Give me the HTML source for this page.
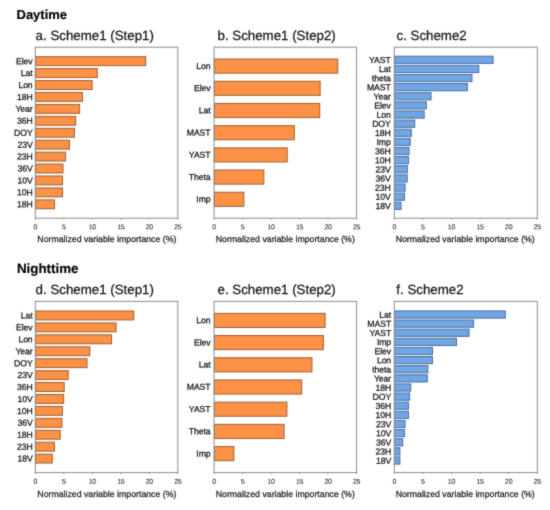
<!DOCTYPE html>
<html lang="en">
<head>
<meta charset="utf-8">
<title>Normalized variable importance</title>
<style>
html,body{margin:0;padding:0;background:#fff;}
body{width:550px;height:510px;overflow:hidden;}
svg{display:block;font-family:"Liberation Sans",Arial,Helvetica,sans-serif;text-rendering:geometricPrecision;}
.head{font-size:13.2px;font-weight:bold;fill:#000;stroke:#000;stroke-width:0.15px;}
.title{font-size:13.3px;fill:#161616;stroke:#161616;stroke-width:0.25px;}
.lab{font-size:8.7px;fill:#141414;text-anchor:end;stroke:#141414;stroke-width:0.25px;letter-spacing:-0.1px;}
.tick{font-size:7.0px;fill:#333;text-anchor:middle;stroke:#333;stroke-width:0.1px;letter-spacing:-0.25px;}
.ax{font-size:8.75px;fill:#1e1e1e;text-anchor:middle;stroke:#1e1e1e;stroke-width:0.25px;}
.frame{fill:none;stroke:#8c8c8c;stroke-width:1;}
.tk{stroke:#8c8c8c;stroke-width:0.9;}
.o{fill:#FD9145;stroke:#9C6238;stroke-width:1.00;}
.b{fill:#70A6E6;stroke:#4d6f98;stroke-width:1.00;}
</style>
</head>
<body>
<svg width="550" height="510" viewBox="0 0 550 510">
<defs><filter id="soft" x="0" y="0" width="550" height="510" filterUnits="userSpaceOnUse" color-interpolation-filters="sRGB"><feConvolveMatrix order="3" kernelMatrix="0.025 0.085 0.025 0.085 0.56 0.085 0.025 0.085 0.025" divisor="1" bias="0" edgeMode="duplicate" preserveAlpha="true"/></filter></defs>
<g filter="url(#soft)">
<rect x="0" y="0" width="550" height="510" fill="#ffffff"/>
<text class="head" style="font-size:13.00px" transform="translate(16.50 18.80) rotate(0.02)">Daytime</text>
<text class="head" style="font-size:13.35px" transform="translate(16.90 272.50) rotate(0.02)">Nighttime</text>
<g>
<text class="title" transform="translate(35.60 39.80) rotate(0.02)">a. Scheme1 (Step1)</text>
<rect class="o" x="35.60" y="56.70" width="110.13" height="8.90"/>
<text class="lab" transform="translate(32.60 64.15) rotate(0.03)">Elev</text>
<rect class="o" x="35.60" y="68.63" width="61.68" height="8.90"/>
<text class="lab" transform="translate(32.60 76.08) rotate(0.03)">Lat</text>
<rect class="o" x="35.60" y="80.56" width="56.55" height="8.90"/>
<text class="lab" transform="translate(32.60 88.01) rotate(0.03)">Lon</text>
<rect class="o" x="35.60" y="92.49" width="46.86" height="8.90"/>
<text class="lab" transform="translate(32.60 99.94) rotate(0.03)">18H</text>
<rect class="o" x="35.60" y="104.42" width="44.01" height="8.90"/>
<text class="lab" transform="translate(32.60 111.87) rotate(0.03)">Year</text>
<rect class="o" x="35.60" y="116.35" width="40.02" height="8.90"/>
<text class="lab" transform="translate(32.60 123.80) rotate(0.03)">36H</text>
<rect class="o" x="35.60" y="128.28" width="38.88" height="8.90"/>
<text class="lab" transform="translate(32.60 135.73) rotate(0.03)">DOY</text>
<rect class="o" x="35.60" y="140.21" width="33.92" height="8.90"/>
<text class="lab" transform="translate(32.60 147.66) rotate(0.03)">23V</text>
<rect class="o" x="35.60" y="152.14" width="30.04" height="8.90"/>
<text class="lab" transform="translate(32.60 159.59) rotate(0.03)">23H</text>
<rect class="o" x="35.60" y="164.07" width="27.37" height="8.90"/>
<text class="lab" transform="translate(32.60 171.52) rotate(0.03)">36V</text>
<rect class="o" x="35.60" y="176.00" width="26.91" height="8.90"/>
<text class="lab" transform="translate(32.60 183.45) rotate(0.03)">10V</text>
<rect class="o" x="35.60" y="187.93" width="26.91" height="8.90"/>
<text class="lab" transform="translate(32.60 195.38) rotate(0.03)">10H</text>
<rect class="o" x="35.60" y="199.86" width="18.93" height="8.90"/>
<text class="lab" transform="translate(32.60 207.31) rotate(0.03)">18H</text>
<rect class="frame" x="35.30" y="47.20" width="142.50" height="171.00"/>
<line class="tk" x1="35.30" y1="218.20" x2="35.30" y2="219.70"/>
<text class="tick" transform="translate(35.30 229.20) rotate(0.03)">0</text>
<line class="tk" x1="63.80" y1="218.20" x2="63.80" y2="219.70"/>
<text class="tick" transform="translate(63.80 229.20) rotate(0.03)">5</text>
<line class="tk" x1="92.30" y1="218.20" x2="92.30" y2="219.70"/>
<text class="tick" transform="translate(92.30 229.20) rotate(0.03)">10</text>
<line class="tk" x1="120.80" y1="218.20" x2="120.80" y2="219.70"/>
<text class="tick" transform="translate(120.80 229.20) rotate(0.03)">15</text>
<line class="tk" x1="149.30" y1="218.20" x2="149.30" y2="219.70"/>
<text class="tick" transform="translate(149.30 229.20) rotate(0.03)">20</text>
<line class="tk" x1="177.80" y1="218.20" x2="177.80" y2="219.70"/>
<text class="tick" transform="translate(177.80 229.20) rotate(0.03)">25</text>
<text class="ax" transform="translate(106.85 241.90) rotate(0.02)">Normalized variable importance (%)</text>
</g>
<g>
<text class="title" transform="translate(217.50 39.80) rotate(0.02)">b. Scheme1 (Step2)</text>
<rect class="o" x="214.40" y="59.05" width="123.35" height="14.10"/>
<text class="lab" transform="translate(210.50 68.90) rotate(0.03)">Lon</text>
<rect class="o" x="214.40" y="81.25" width="105.74" height="14.10"/>
<text class="lab" transform="translate(210.50 91.10) rotate(0.03)">Elev</text>
<rect class="o" x="214.40" y="103.45" width="105.34" height="14.10"/>
<text class="lab" transform="translate(210.50 113.30) rotate(0.03)">Lat</text>
<rect class="o" x="214.40" y="125.65" width="79.92" height="14.10"/>
<text class="lab" transform="translate(210.50 135.50) rotate(0.03)">MAST</text>
<rect class="o" x="214.40" y="147.85" width="72.80" height="14.10"/>
<text class="lab" transform="translate(210.50 157.70) rotate(0.03)">YAST</text>
<rect class="o" x="214.40" y="170.05" width="49.43" height="14.10"/>
<text class="lab" transform="translate(210.50 179.90) rotate(0.03)">Theta</text>
<rect class="o" x="214.40" y="192.25" width="29.47" height="14.10"/>
<text class="lab" transform="translate(210.50 202.10) rotate(0.03)">Imp</text>
<rect class="frame" x="214.10" y="47.20" width="142.50" height="171.00"/>
<line class="tk" x1="214.10" y1="218.20" x2="214.10" y2="219.70"/>
<text class="tick" transform="translate(214.10 229.20) rotate(0.03)">0</text>
<line class="tk" x1="242.60" y1="218.20" x2="242.60" y2="219.70"/>
<text class="tick" transform="translate(242.60 229.20) rotate(0.03)">5</text>
<line class="tk" x1="271.10" y1="218.20" x2="271.10" y2="219.70"/>
<text class="tick" transform="translate(271.10 229.20) rotate(0.03)">10</text>
<line class="tk" x1="299.60" y1="218.20" x2="299.60" y2="219.70"/>
<text class="tick" transform="translate(299.60 229.20) rotate(0.03)">15</text>
<line class="tk" x1="328.10" y1="218.20" x2="328.10" y2="219.70"/>
<text class="tick" transform="translate(328.10 229.20) rotate(0.03)">20</text>
<line class="tk" x1="356.60" y1="218.20" x2="356.60" y2="219.70"/>
<text class="tick" transform="translate(356.60 229.20) rotate(0.03)">25</text>
<text class="ax" transform="translate(285.25 241.90) rotate(0.02)">Normalized variable importance (%)</text>
</g>
<g>
<text class="title" transform="translate(396.50 39.80) rotate(0.02)">c. Scheme2</text>
<rect class="b" x="394.60" y="56.20" width="98.51" height="7.20"/>
<text class="lab" transform="translate(390.70 62.95) rotate(0.03)">YAST</text>
<rect class="b" x="394.60" y="65.33" width="84.21" height="7.20"/>
<text class="lab" transform="translate(390.70 72.08) rotate(0.03)">Lat</text>
<rect class="b" x="394.60" y="74.45" width="77.34" height="7.20"/>
<text class="lab" transform="translate(390.70 81.20) rotate(0.03)">theta</text>
<rect class="b" x="394.60" y="83.58" width="72.77" height="7.20"/>
<text class="lab" transform="translate(390.70 90.33) rotate(0.03)">MAST</text>
<rect class="b" x="394.60" y="92.70" width="36.44" height="7.20"/>
<text class="lab" transform="translate(390.70 99.45) rotate(0.03)">Year</text>
<rect class="b" x="394.60" y="101.83" width="31.70" height="7.20"/>
<text class="lab" transform="translate(390.70 108.58) rotate(0.03)">Elev</text>
<rect class="b" x="394.60" y="110.95" width="29.58" height="7.20"/>
<text class="lab" transform="translate(390.70 117.70) rotate(0.03)">Lon</text>
<rect class="b" x="394.60" y="120.08" width="20.14" height="7.20"/>
<text class="lab" transform="translate(390.70 126.83) rotate(0.03)">DOY</text>
<rect class="b" x="394.60" y="129.20" width="16.71" height="7.20"/>
<text class="lab" transform="translate(390.70 135.95) rotate(0.03)">18H</text>
<rect class="b" x="394.60" y="138.33" width="15.57" height="7.20"/>
<text class="lab" transform="translate(390.70 145.08) rotate(0.03)">Imp</text>
<rect class="b" x="394.60" y="147.45" width="14.42" height="7.20"/>
<text class="lab" transform="translate(390.70 154.20) rotate(0.03)">36H</text>
<rect class="b" x="394.60" y="156.58" width="13.85" height="7.20"/>
<text class="lab" transform="translate(390.70 163.33) rotate(0.03)">10H</text>
<rect class="b" x="394.60" y="165.70" width="12.71" height="7.20"/>
<text class="lab" transform="translate(390.70 172.45) rotate(0.03)">23V</text>
<rect class="b" x="394.60" y="174.83" width="12.59" height="7.20"/>
<text class="lab" transform="translate(390.70 181.58) rotate(0.03)">36V</text>
<rect class="b" x="394.60" y="183.95" width="10.53" height="7.20"/>
<text class="lab" transform="translate(390.70 190.70) rotate(0.03)">23H</text>
<rect class="b" x="394.60" y="193.08" width="9.96" height="7.20"/>
<text class="lab" transform="translate(390.70 199.83) rotate(0.03)">10V</text>
<rect class="b" x="394.60" y="202.20" width="6.41" height="7.20"/>
<text class="lab" transform="translate(390.70 208.95) rotate(0.03)">18V</text>
<rect class="frame" x="394.30" y="47.20" width="143.00" height="171.00"/>
<line class="tk" x1="394.30" y1="218.20" x2="394.30" y2="219.70"/>
<text class="tick" transform="translate(394.30 229.20) rotate(0.03)">0</text>
<line class="tk" x1="422.90" y1="218.20" x2="422.90" y2="219.70"/>
<text class="tick" transform="translate(422.90 229.20) rotate(0.03)">5</text>
<line class="tk" x1="451.50" y1="218.20" x2="451.50" y2="219.70"/>
<text class="tick" transform="translate(451.50 229.20) rotate(0.03)">10</text>
<line class="tk" x1="480.10" y1="218.20" x2="480.10" y2="219.70"/>
<text class="tick" transform="translate(480.10 229.20) rotate(0.03)">15</text>
<line class="tk" x1="508.70" y1="218.20" x2="508.70" y2="219.70"/>
<text class="tick" transform="translate(508.70 229.20) rotate(0.03)">20</text>
<line class="tk" x1="537.30" y1="218.20" x2="537.30" y2="219.70"/>
<text class="tick" transform="translate(537.30 229.20) rotate(0.03)">25</text>
<text class="ax" transform="translate(465.20 241.90) rotate(0.02)">Normalized variable importance (%)</text>
</g>
<g>
<text class="title" transform="translate(35.60 293.90) rotate(0.02)">d. Scheme1 (Step1)</text>
<rect class="o" x="35.60" y="311.00" width="98.16" height="8.90"/>
<text class="lab" transform="translate(32.60 318.45) rotate(0.03)">Lat</text>
<rect class="o" x="35.60" y="322.93" width="80.49" height="8.90"/>
<text class="lab" transform="translate(32.60 330.38) rotate(0.03)">Elev</text>
<rect class="o" x="35.60" y="334.86" width="75.93" height="8.90"/>
<text class="lab" transform="translate(32.60 342.31) rotate(0.03)">Lon</text>
<rect class="o" x="35.60" y="346.79" width="54.27" height="8.90"/>
<text class="lab" transform="translate(32.60 354.24) rotate(0.03)">Year</text>
<rect class="o" x="35.60" y="358.72" width="51.42" height="8.90"/>
<text class="lab" transform="translate(32.60 366.17) rotate(0.03)">DOY</text>
<rect class="o" x="35.60" y="370.65" width="32.61" height="8.90"/>
<text class="lab" transform="translate(32.60 378.10) rotate(0.03)">23V</text>
<rect class="o" x="35.60" y="382.58" width="28.62" height="8.90"/>
<text class="lab" transform="translate(32.60 390.03) rotate(0.03)">36H</text>
<rect class="o" x="35.60" y="394.51" width="28.05" height="8.90"/>
<text class="lab" transform="translate(32.60 401.96) rotate(0.03)">10V</text>
<rect class="o" x="35.60" y="406.44" width="26.91" height="8.90"/>
<text class="lab" transform="translate(32.60 413.89) rotate(0.03)">10H</text>
<rect class="o" x="35.60" y="418.37" width="26.34" height="8.90"/>
<text class="lab" transform="translate(32.60 425.82) rotate(0.03)">36V</text>
<rect class="o" x="35.60" y="430.30" width="24.63" height="8.90"/>
<text class="lab" transform="translate(32.60 437.75) rotate(0.03)">18H</text>
<rect class="o" x="35.60" y="442.23" width="18.93" height="8.90"/>
<text class="lab" transform="translate(32.60 449.68) rotate(0.03)">23H</text>
<rect class="o" x="35.60" y="454.16" width="16.65" height="8.90"/>
<text class="lab" transform="translate(32.60 461.61) rotate(0.03)">18V</text>
<rect class="frame" x="35.30" y="301.40" width="142.50" height="171.20"/>
<line class="tk" x1="35.30" y1="472.60" x2="35.30" y2="474.10"/>
<text class="tick" transform="translate(35.30 483.70) rotate(0.03)">0</text>
<line class="tk" x1="63.80" y1="472.60" x2="63.80" y2="474.10"/>
<text class="tick" transform="translate(63.80 483.70) rotate(0.03)">5</text>
<line class="tk" x1="92.30" y1="472.60" x2="92.30" y2="474.10"/>
<text class="tick" transform="translate(92.30 483.70) rotate(0.03)">10</text>
<line class="tk" x1="120.80" y1="472.60" x2="120.80" y2="474.10"/>
<text class="tick" transform="translate(120.80 483.70) rotate(0.03)">15</text>
<line class="tk" x1="149.30" y1="472.60" x2="149.30" y2="474.10"/>
<text class="tick" transform="translate(149.30 483.70) rotate(0.03)">20</text>
<line class="tk" x1="177.80" y1="472.60" x2="177.80" y2="474.10"/>
<text class="tick" transform="translate(177.80 483.70) rotate(0.03)">25</text>
<text class="ax" transform="translate(106.85 497.00) rotate(0.02)">Normalized variable importance (%)</text>
</g>
<g>
<text class="title" transform="translate(217.50 293.90) rotate(0.02)">e. Scheme1 (Step2)</text>
<rect class="o" x="214.40" y="313.35" width="110.70" height="14.10"/>
<text class="lab" transform="translate(210.50 323.20) rotate(0.03)">Lon</text>
<rect class="o" x="214.40" y="335.55" width="108.99" height="14.10"/>
<text class="lab" transform="translate(210.50 345.40) rotate(0.03)">Elev</text>
<rect class="o" x="214.40" y="357.75" width="97.59" height="14.10"/>
<text class="lab" transform="translate(210.50 367.60) rotate(0.03)">Lat</text>
<rect class="o" x="214.40" y="379.95" width="87.33" height="14.10"/>
<text class="lab" transform="translate(210.50 389.80) rotate(0.03)">MAST</text>
<rect class="o" x="214.40" y="402.15" width="72.51" height="14.10"/>
<text class="lab" transform="translate(210.50 412.00) rotate(0.03)">YAST</text>
<rect class="o" x="214.40" y="424.35" width="69.66" height="14.10"/>
<text class="lab" transform="translate(210.50 434.20) rotate(0.03)">Theta</text>
<rect class="o" x="214.40" y="446.55" width="19.50" height="14.10"/>
<text class="lab" transform="translate(210.50 456.40) rotate(0.03)">Imp</text>
<rect class="frame" x="214.10" y="301.40" width="142.50" height="171.20"/>
<line class="tk" x1="214.10" y1="472.60" x2="214.10" y2="474.10"/>
<text class="tick" transform="translate(214.10 483.70) rotate(0.03)">0</text>
<line class="tk" x1="242.60" y1="472.60" x2="242.60" y2="474.10"/>
<text class="tick" transform="translate(242.60 483.70) rotate(0.03)">5</text>
<line class="tk" x1="271.10" y1="472.60" x2="271.10" y2="474.10"/>
<text class="tick" transform="translate(271.10 483.70) rotate(0.03)">10</text>
<line class="tk" x1="299.60" y1="472.60" x2="299.60" y2="474.10"/>
<text class="tick" transform="translate(299.60 483.70) rotate(0.03)">15</text>
<line class="tk" x1="328.10" y1="472.60" x2="328.10" y2="474.10"/>
<text class="tick" transform="translate(328.10 483.70) rotate(0.03)">20</text>
<line class="tk" x1="356.60" y1="472.60" x2="356.60" y2="474.10"/>
<text class="tick" transform="translate(356.60 483.70) rotate(0.03)">25</text>
<text class="ax" transform="translate(285.25 497.00) rotate(0.02)">Normalized variable importance (%)</text>
</g>
<g>
<text class="title" transform="translate(396.30 293.90) rotate(0.02)">f. Scheme2</text>
<rect class="b" x="394.60" y="310.90" width="110.63" height="7.20"/>
<text class="lab" transform="translate(391.10 317.65) rotate(0.03)">Lat</text>
<rect class="b" x="394.60" y="320.02" width="79.06" height="7.20"/>
<text class="lab" transform="translate(391.10 326.77) rotate(0.03)">MAST</text>
<rect class="b" x="394.60" y="329.15" width="74.48" height="7.20"/>
<text class="lab" transform="translate(391.10 335.90) rotate(0.03)">YAST</text>
<rect class="b" x="394.60" y="338.27" width="61.90" height="7.20"/>
<text class="lab" transform="translate(391.10 345.02) rotate(0.03)">Imp</text>
<rect class="b" x="394.60" y="347.40" width="37.87" height="7.20"/>
<text class="lab" transform="translate(391.10 354.15) rotate(0.03)">Elev</text>
<rect class="b" x="394.60" y="356.52" width="37.87" height="7.20"/>
<text class="lab" transform="translate(391.10 363.27) rotate(0.03)">Lon</text>
<rect class="b" x="394.60" y="365.65" width="33.30" height="7.20"/>
<text class="lab" transform="translate(391.10 372.40) rotate(0.03)">theta</text>
<rect class="b" x="394.60" y="374.77" width="32.73" height="7.20"/>
<text class="lab" transform="translate(391.10 381.52) rotate(0.03)">Year</text>
<rect class="b" x="394.60" y="383.90" width="16.14" height="7.20"/>
<text class="lab" transform="translate(391.10 390.65) rotate(0.03)">18H</text>
<rect class="b" x="394.60" y="393.02" width="14.99" height="7.20"/>
<text class="lab" transform="translate(391.10 399.77) rotate(0.03)">DOY</text>
<rect class="b" x="394.60" y="402.15" width="13.85" height="7.20"/>
<text class="lab" transform="translate(391.10 408.90) rotate(0.03)">36H</text>
<rect class="b" x="394.60" y="411.27" width="13.85" height="7.20"/>
<text class="lab" transform="translate(391.10 418.02) rotate(0.03)">10H</text>
<rect class="b" x="394.60" y="420.40" width="10.42" height="7.20"/>
<text class="lab" transform="translate(391.10 427.15) rotate(0.03)">23V</text>
<rect class="b" x="394.60" y="429.52" width="9.85" height="7.20"/>
<text class="lab" transform="translate(391.10 436.27) rotate(0.03)">10V</text>
<rect class="b" x="394.60" y="438.65" width="8.13" height="7.20"/>
<text class="lab" transform="translate(391.10 445.40) rotate(0.03)">36V</text>
<rect class="b" x="394.60" y="447.77" width="5.27" height="7.20"/>
<text class="lab" transform="translate(391.10 454.52) rotate(0.03)">23H</text>
<rect class="b" x="394.60" y="456.90" width="5.27" height="7.20"/>
<text class="lab" transform="translate(391.10 463.65) rotate(0.03)">18V</text>
<rect class="frame" x="394.30" y="301.40" width="143.00" height="171.20"/>
<line class="tk" x1="394.30" y1="472.60" x2="394.30" y2="474.10"/>
<text class="tick" transform="translate(394.30 483.70) rotate(0.03)">0</text>
<line class="tk" x1="422.90" y1="472.60" x2="422.90" y2="474.10"/>
<text class="tick" transform="translate(422.90 483.70) rotate(0.03)">5</text>
<line class="tk" x1="451.50" y1="472.60" x2="451.50" y2="474.10"/>
<text class="tick" transform="translate(451.50 483.70) rotate(0.03)">10</text>
<line class="tk" x1="480.10" y1="472.60" x2="480.10" y2="474.10"/>
<text class="tick" transform="translate(480.10 483.70) rotate(0.03)">15</text>
<line class="tk" x1="508.70" y1="472.60" x2="508.70" y2="474.10"/>
<text class="tick" transform="translate(508.70 483.70) rotate(0.03)">20</text>
<line class="tk" x1="537.30" y1="472.60" x2="537.30" y2="474.10"/>
<text class="tick" transform="translate(537.30 483.70) rotate(0.03)">25</text>
<text class="ax" transform="translate(465.20 497.00) rotate(0.02)">Normalized variable importance (%)</text>
</g>
</g>
</svg>
</body>
</html>
